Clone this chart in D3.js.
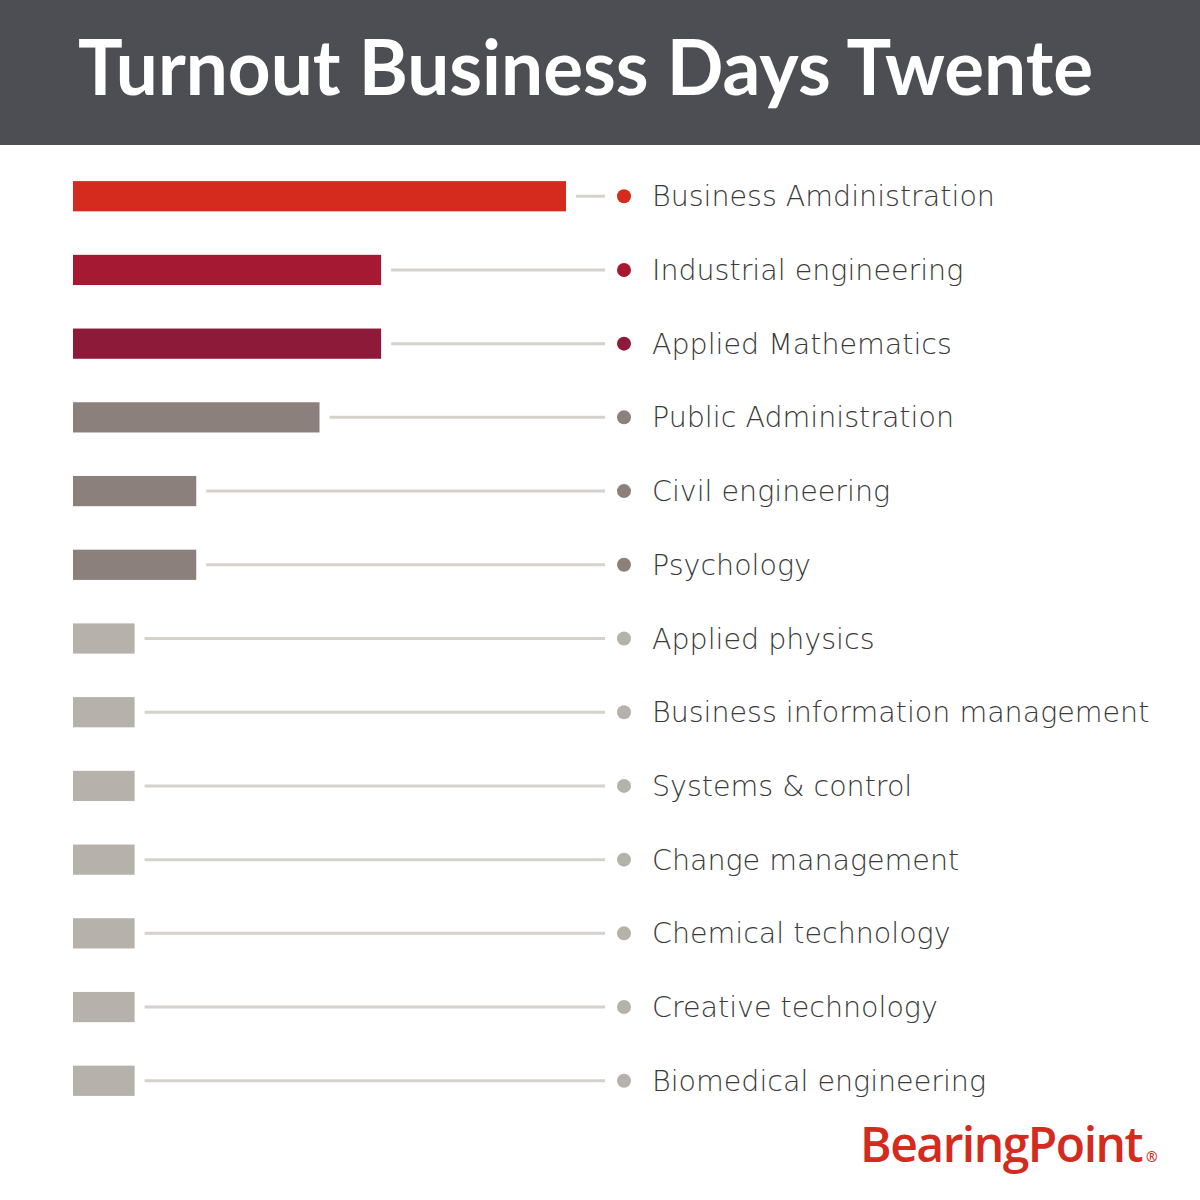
<!DOCTYPE html>
<html><head><meta charset="utf-8">
<script src="https://cdn.jsdelivr.net/npm/d3@7"></script>
<style>body{margin:0;background:#fff}svg{display:block}</style>
</head><body>
<svg id="c" width="1200" height="1200"></svg>
<script>
const categories = ["Business Amdinistration","Industrial engineering","Applied Mathematics","Public Administration","Civil engineering","Psychology","Applied physics","Business information management","Systems & control","Change management","Chemical technology","Creative technology","Biomedical engineering"];
const values = [8,5,5,4,2,2,1,1,1,1,1,1,1];
const colors = ["#d42b1e","#a51a32","#8e1a3a","#8b807b","#8b807b","#8b807b","#b7b1ab","#b7b1ab","#b7b1ab","#b7b1ab","#b7b1ab","#b7b1ab","#b7b1ab"];
const title = "Turnout Business Days Twente";

const svg = d3.select("#c");
svg.append("rect").attr("x",0).attr("y",0).attr("width",1200).attr("height",145).attr("fill","#4d4e53");
svg.append("text").attr("x",78).attr("y",95).attr("fill","#fff")
  .attr("font-family","Lato, 'Open Sans', sans-serif").attr("font-weight",700)
  .attr("font-size",76).attr("textLength",1015).attr("lengthAdjust","spacingAndGlyphs").text(title);

const x = d3.scaleLinear().domain([0,8]).range([73,566]);
const y = d3.scaleBand().domain(categories).range([159,1118]).paddingInner(0.59).paddingOuter(0.3);
const data = categories.map((c,i)=>({c,v:values[i],col:colors[i]}));
const g = svg.append("g");
const row = g.selectAll("g.row").data(data).join("g").attr("class","row");
row.append("rect").attr("x",x(0)).attr("y",d=>y(d.c)).attr("width",d=>x(d.v)-x(0)).attr("height",y.bandwidth()).attr("fill",d=>d.col);
row.append("line").attr("x1",d=>x(d.v)+10).attr("x2",605)
  .attr("y1",d=>y(d.c)+y.bandwidth()/2).attr("y2",d=>y(d.c)+y.bandwidth()/2)
  .attr("stroke","#d4d2cb").attr("stroke-width",3);
row.append("circle").attr("cx",624).attr("cy",d=>y(d.c)+y.bandwidth()/2).attr("r",7).attr("fill",d=>d.col);
row.append("text").attr("x",652).attr("y",d=>y(d.c)+y.bandwidth()/2+10)
  .attr("fill","#3a3a3a").attr("font-family","'DejaVu Sans', sans-serif").attr("font-weight",300)
  .attr("font-size",28.5).text(d=>d.c);

const logo = svg.append("text").attr("x",860).attr("y",1162).attr("fill","#d42b1e")
  .attr("font-family","'Open Sans', sans-serif").attr("font-weight",600).attr("font-size",48).attr("letter-spacing",-1.5);
logo.append("tspan").text("BearingPoint");
logo.append("tspan").attr("font-size",14).attr("dx",4).text("®");
</script>
</body></html>
